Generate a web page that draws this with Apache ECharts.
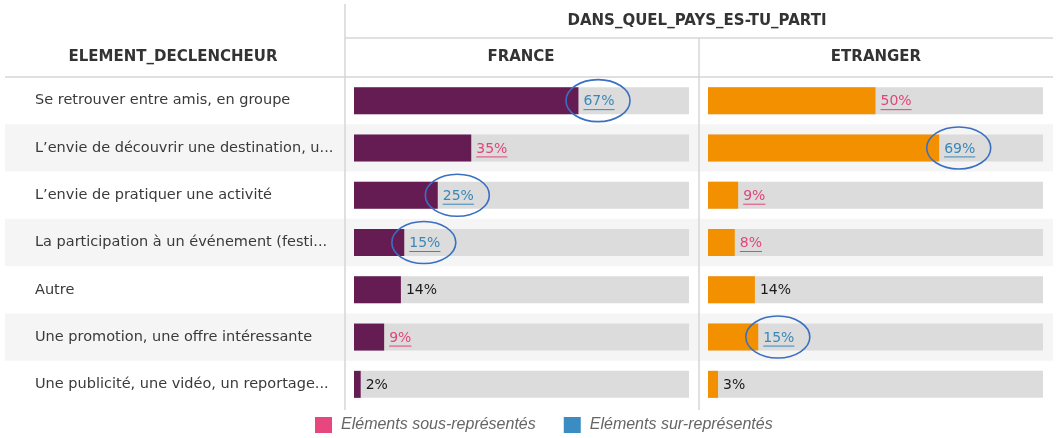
<!DOCTYPE html>
<html>
<head>
<meta charset="utf-8">
<script src="https://cdn.jsdelivr.net/npm/echarts@6/dist/echarts.min.js"></script>
<style>
  html, body { margin: 0; padding: 0; background: #fff; }
  #chart { width: 1057px; height: 438px; }
</style>
</head>
<body>
<div id="chart"></div>
<script>
// rows of the table (top to bottom)
var categories = [
  'Se retrouver entre amis, en groupe',
  'L\u2019envie de découvrir une destination, u...',
  'L\u2019envie de pratiquer une activité',
  'La participation à un événement (festi...',
  'Autre',
  'Une promotion, une offre intéressante',
  'Une publicité, une vidéo, un reportage...'
];
var franceValues = [67, 35, 25, 15, 14, 9, 2];
var etrangerValues = [50, 69, 9, 8, 14, 15, 3];
// over = sur-représenté (blue, circled), under = sous-représenté (pink), '' = neutral
var franceSignif = ['over', 'under', 'over', 'over', '', 'under', ''];
var etrangerSignif = ['under', 'over', 'under', 'under', '', 'over', ''];
var legendNames = ['Eléments sous-représentés', 'Eléments sur-représentés'];

var PURPLE = '#651c53';
var ORANGE = '#f39000';
var PINK = '#e0457b';
var BLUE = '#3a87b8';
var LEGEND_PINK = '#e8467f';
var LEGEND_BLUE = '#3a8cc2';
var TRACK = '#dcdcdc';
var LINE = '#d6d6d6';
var FONT = '"DejaVu Sans", Verdana, sans-serif';

var chart = echarts.init(document.getElementById('chart'));

var ctx = document.createElement('canvas').getContext('2d');
ctx.font = '14px ' + FONT;

function labelRenderer(signif) {
  return function (params, api) {
    var v = api.value(0);
    var p = api.coord([v, api.value(1)]);
    var kind = signif[params.dataIndex];
    var color = kind === 'over' ? BLUE : (kind === 'under' ? PINK : '#1a1a1a');
    var txt = v + '%';
    var w = ctx.measureText(txt).width;
    var x = p[0] + 5;
    var y = p[1];
    var children = [{
      type: 'text',
      style: { text: txt, x: x, y: y + 1, fill: color, font: '14px ' + FONT, verticalAlign: 'middle' }
    }];
    if (kind) {
      children.push({
        type: 'line',
        shape: { x1: x, y1: y + 9, x2: x + w, y2: y + 9 },
        style: { stroke: color, lineWidth: 1 }
      });
    }
    if (kind === 'over') {
      children.push({
        type: 'ellipse',
        shape: { cx: x + w / 2 - 1, cy: y, rx: 32, ry: 21 },
        style: { fill: 'none', stroke: '#3a6fc2', lineWidth: 1.6 }
      });
    }
    return { type: 'group', children: children };
  };
}

function pairs(values) {
  return values.map(function (v, i) { return [v, i]; });
}

var gridTop = 77, gridHeight = 331;

var option = {
  animation: false,
  grid: [
    { left: 5, width: 1048, top: gridTop, height: gridHeight },
    { left: 354, width: 335, top: gridTop, height: gridHeight },
    { left: 708, width: 335, top: gridTop, height: gridHeight }
  ],
  xAxis: [
    { gridIndex: 0, type: 'value', min: 0, max: 1, show: false },
    { gridIndex: 1, type: 'value', min: 0, max: 100, show: false },
    { gridIndex: 2, type: 'value', min: 0, max: 100, show: false }
  ],
  yAxis: [
    {
      gridIndex: 0, type: 'category', data: categories, inverse: true,
      axisLine: { show: false }, axisTick: { show: false }, axisLabel: { show: false },
      splitLine: { show: false },
      splitArea: { show: true, areaStyle: { color: ['rgba(255,255,255,0)', '#f5f5f5'] } }
    },
    {
      gridIndex: 1, type: 'category', data: categories, inverse: true,
      axisLine: { show: false }, axisTick: { show: false },
      axisLabel: {
        align: 'left', margin: 319, color: '#3a3a3a', fontSize: 14.5, fontFamily: FONT
      }
    },
    {
      gridIndex: 2, type: 'category', data: categories, inverse: true,
      axisLine: { show: false }, axisTick: { show: false }, axisLabel: { show: false }
    }
  ],
  legend: {
    data: legendNames,
    left: 315, top: 417, padding: 0,
    icon: 'rect', itemWidth: 17, itemHeight: 16, itemGap: 28,
    selectedMode: false,
    textStyle: {
      fontFamily: '"Liberation Sans", Arial, sans-serif', fontStyle: 'italic',
      fontSize: 16, color: '#666', padding: [0, 0, 0, 4]
    }
  },
  series: [
    { name: legendNames[0], type: 'bar', xAxisIndex: 0, yAxisIndex: 0, data: [], itemStyle: { color: LEGEND_PINK } },
    { name: legendNames[1], type: 'bar', xAxisIndex: 0, yAxisIndex: 0, data: [], itemStyle: { color: LEGEND_BLUE } },
    {
      name: 'FRANCE', type: 'bar', xAxisIndex: 1, yAxisIndex: 1,
      data: franceValues, barWidth: 27,
      showBackground: true, backgroundStyle: { color: TRACK },
      itemStyle: { color: PURPLE }
    },
    {
      name: 'ETRANGER', type: 'bar', xAxisIndex: 2, yAxisIndex: 2,
      data: etrangerValues, barWidth: 27,
      showBackground: true, backgroundStyle: { color: TRACK },
      itemStyle: { color: ORANGE }
    },
    {
      type: 'custom', xAxisIndex: 1, yAxisIndex: 1, z: 5,
      data: pairs(franceValues), encode: { x: 0, y: 1 },
      renderItem: labelRenderer(franceSignif)
    },
    {
      type: 'custom', xAxisIndex: 2, yAxisIndex: 2, z: 5,
      data: pairs(etrangerValues), encode: { x: 0, y: 1 },
      renderItem: labelRenderer(etrangerSignif)
    }
  ],
  graphic: [
    // table rules
    { type: 'line', z: 100, shape: { x1: 345, y1: 4, x2: 345, y2: 410 }, style: { stroke: LINE, lineWidth: 1.5 } },
    { type: 'line', z: 100, shape: { x1: 699, y1: 38, x2: 699, y2: 410 }, style: { stroke: LINE, lineWidth: 1.5 } },
    { type: 'line', z: 100, shape: { x1: 345, y1: 38, x2: 1053, y2: 38 }, style: { stroke: LINE, lineWidth: 1.5 } },
    { type: 'line', z: 100, shape: { x1: 5, y1: 77, x2: 1053, y2: 77 }, style: { stroke: LINE, lineWidth: 1.5 } },
    // headers
    { type: 'text', z: 100, style: { text: 'DANS_QUEL_PAYS_ES-TU_PARTI', x: 697, y: 21, align: 'center', verticalAlign: 'middle', font: 'bold 15px ' + FONT, fill: '#333' } },
    { type: 'text', z: 100, style: { text: 'ELEMENT_DECLENCHEUR', x: 173, y: 57, align: 'center', verticalAlign: 'middle', font: 'bold 15px ' + FONT, fill: '#333' } },
    { type: 'text', z: 100, style: { text: 'FRANCE', x: 521, y: 57, align: 'center', verticalAlign: 'middle', font: 'bold 15px ' + FONT, fill: '#333' } },
    { type: 'text', z: 100, style: { text: 'ETRANGER', x: 876, y: 57, align: 'center', verticalAlign: 'middle', font: 'bold 15px ' + FONT, fill: '#333' } }
  ]
};

chart.setOption(option);
</script>
</body>
</html>
